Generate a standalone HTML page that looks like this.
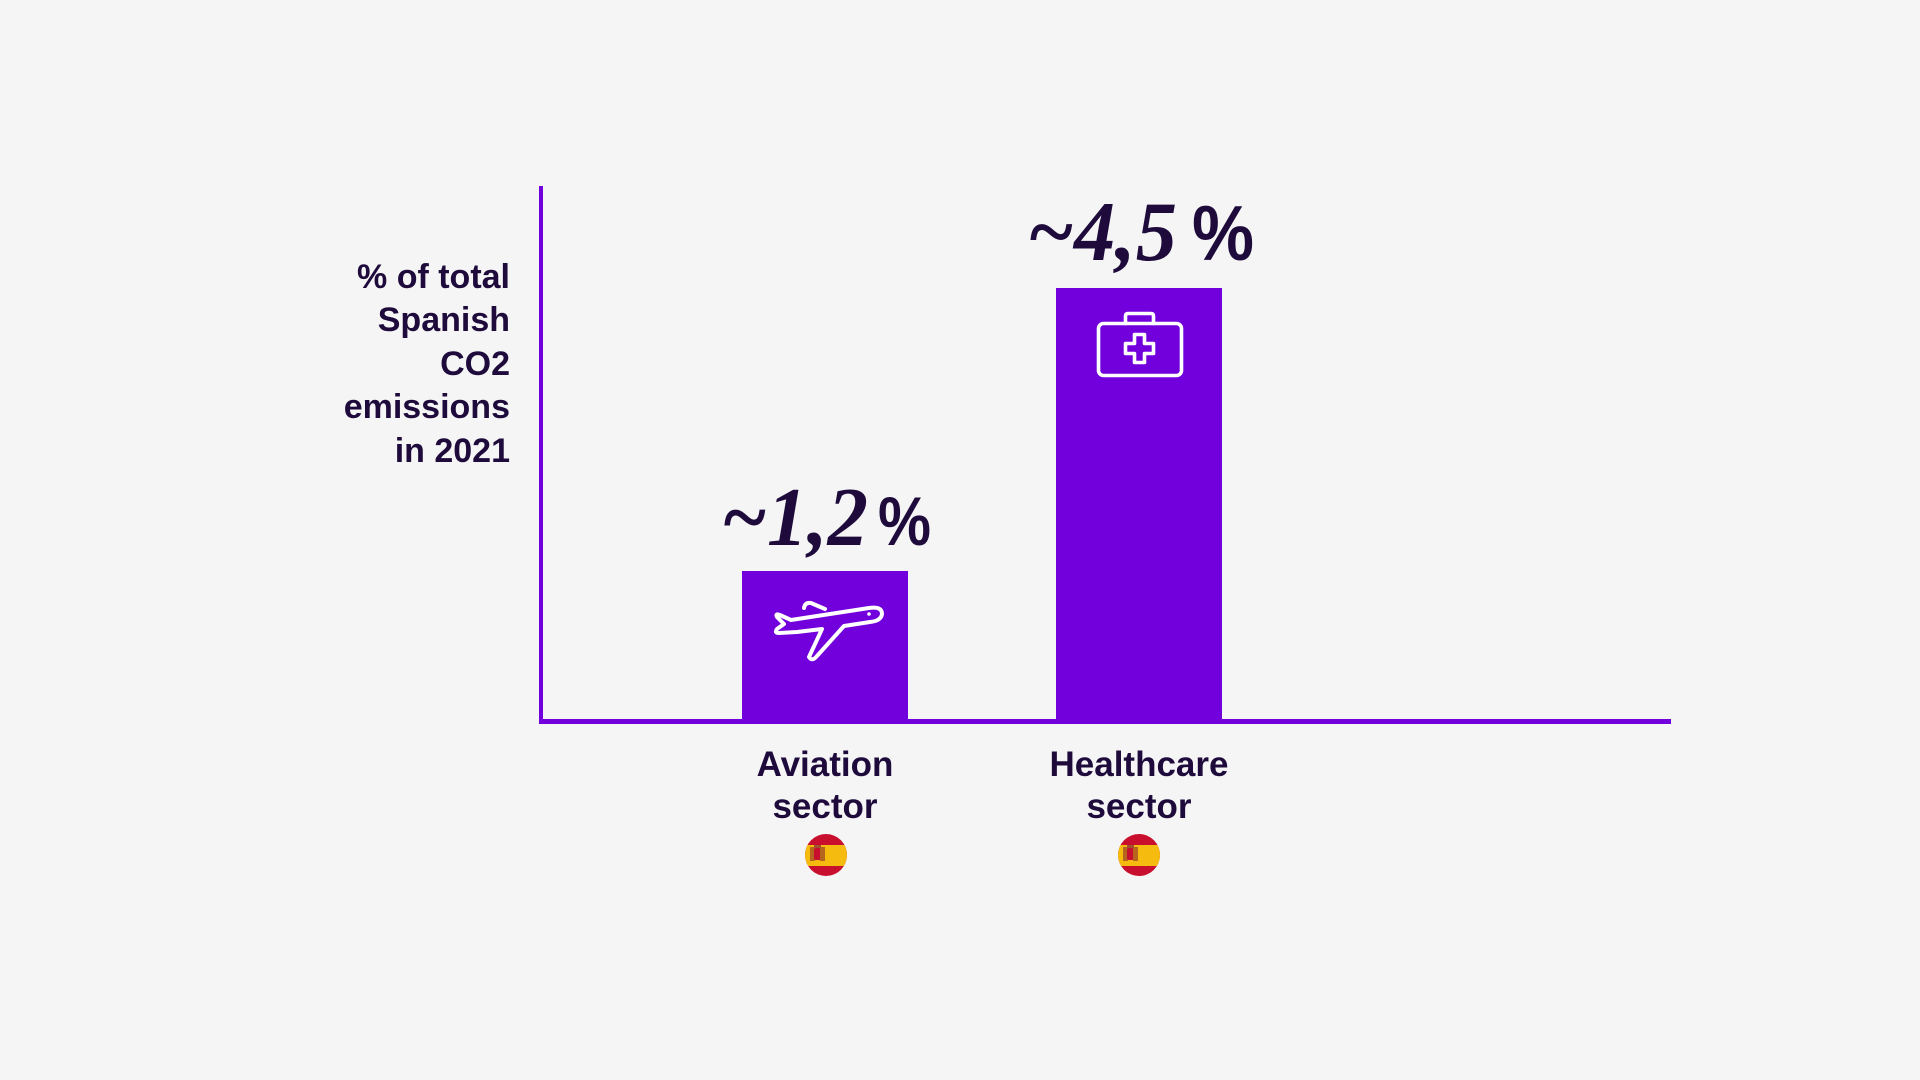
<!DOCTYPE html>
<html>
<head>
<meta charset="utf-8">
<style>
  html, body { margin: 0; padding: 0; background: #f5f5f5; }
  body { width: 1920px; height: 1080px; overflow: hidden; }
  svg { display: block; }
  .lbl { font-family: "Liberation Sans", Arial, sans-serif; font-weight: bold; fill: #1e0b3c; }
  .num { font-family: "Liberation Serif", "Times New Roman", serif; font-style: italic; font-weight: bold; fill: #1e0b3c; }
  .pct { font-family: "Liberation Sans", Arial, sans-serif; font-weight: bold; fill: #1e0b3c; }
</style>
</head>
<body>
<svg width="1920" height="1080" viewBox="0 0 1920 1080" xmlns="http://www.w3.org/2000/svg">
  <defs>
    <clipPath id="c1"><circle cx="826" cy="855" r="21"/></clipPath>
    <clipPath id="c2"><circle cx="1139" cy="855" r="21"/></clipPath>
  </defs>
  <rect x="0" y="0" width="1920" height="1080" fill="#f5f5f5"/>

  <!-- Y-axis label -->
  <text class="lbl" font-size="34" text-anchor="end" x="510" y="288">% of total</text>
  <text class="lbl" font-size="34" text-anchor="end" x="510" y="331">Spanish</text>
  <text class="lbl" font-size="34" text-anchor="end" x="510" y="375">CO2</text>
  <text class="lbl" font-size="34" text-anchor="end" x="510" y="418">emissions</text>
  <text class="lbl" font-size="34" text-anchor="end" x="510" y="462">in 2021</text>

  <!-- Bars -->
  <rect x="742" y="571" width="166" height="150" fill="#7200dc"/>
  <rect x="1056" y="288" width="166" height="433" fill="#7200dc"/>

  <!-- Axes -->
  <rect x="539" y="186" width="4" height="538" fill="#7200dc"/>
  <rect x="539" y="719" width="1132" height="5" fill="#7200dc"/>

  <!-- Value labels -->
  <text class="num" x="721" y="545" font-size="84" textLength="147" lengthAdjust="spacingAndGlyphs">~1,2</text>
  <text class="pct" x="878" y="545" font-size="69" textLength="53" lengthAdjust="spacingAndGlyphs">%</text>

  <text class="num" x="1027" y="260" font-size="85" textLength="150" lengthAdjust="spacingAndGlyphs">~4,5</text>
  <text class="pct" x="1192" y="260" font-size="78" textLength="62" lengthAdjust="spacingAndGlyphs">%</text>

  <!-- Plane icon -->
  <g fill="none" stroke="#ffffff" stroke-width="4" stroke-linejoin="round" stroke-linecap="round">
    <path d="M 869 608 Q 882 606 882 614 Q 881 621 870 622 L 844 626 L 817 656 Q 812 662 809 657 L 822 629 L 797 632 L 779 633 Q 774 633 777 629 L 784 624 L 777 617 Q 775 613 780 615 L 791 620 Z"/>
    <path d="M 804 608 Q 805 602 811 603 L 825 609"/>
  </g>
  <circle cx="869" cy="614" r="1.8" fill="#ffffff"/>

  <!-- Medical kit icon -->
  <g fill="none" stroke="#ffffff" stroke-width="3.6" stroke-linejoin="round" stroke-linecap="round">
    <rect x="1098.5" y="323.5" width="83" height="52" rx="5" ry="5"/>
    <path d="M 1125.5 323.5 L 1125.5 316 Q 1125.5 313.5 1128 313.5 L 1151 313.5 Q 1153.5 313.5 1153.5 316 L 1153.5 323.5"/>
    <path d="M 1134.5 334.5 L 1144.5 334.5 L 1144.5 343.5 L 1153.5 343.5 L 1153.5 353.5 L 1144.5 353.5 L 1144.5 362.5 L 1134.5 362.5 L 1134.5 353.5 L 1125.5 353.5 L 1125.5 343.5 L 1134.5 343.5 Z"/>
  </g>

  <!-- Category labels -->
  <text class="lbl" font-size="35" text-anchor="middle" x="825" y="776">Aviation</text>
  <text class="lbl" font-size="35" text-anchor="middle" x="825" y="818">sector</text>
  <text class="lbl" font-size="35" text-anchor="middle" x="1139" y="776">Healthcare</text>
  <text class="lbl" font-size="35" text-anchor="middle" x="1139" y="818">sector</text>

  <!-- Spanish flags -->
  <g clip-path="url(#c1)">
    <rect x="800" y="830" width="52" height="52" fill="#c8102e"/>
    <rect x="800" y="845" width="52" height="21" fill="#f6bb0f"/>
    <rect x="810" y="847" width="5" height="14" fill="#b5651d"/>
    <rect x="814" y="848" width="7" height="12" rx="2" fill="#c8102e"/>
    <rect x="820" y="847" width="5" height="14" fill="#b5651d"/>
    <rect x="814" y="845" width="7" height="3" fill="#a0522d"/>
  </g>
  <g clip-path="url(#c2)">
    <rect x="1113" y="830" width="52" height="52" fill="#c8102e"/>
    <rect x="1113" y="845" width="52" height="21" fill="#f6bb0f"/>
    <rect x="1123" y="847" width="5" height="14" fill="#b5651d"/>
    <rect x="1127" y="848" width="7" height="12" rx="2" fill="#c8102e"/>
    <rect x="1133" y="847" width="5" height="14" fill="#b5651d"/>
    <rect x="1127" y="845" width="7" height="3" fill="#a0522d"/>
  </g>
</svg>
</body>
</html>
